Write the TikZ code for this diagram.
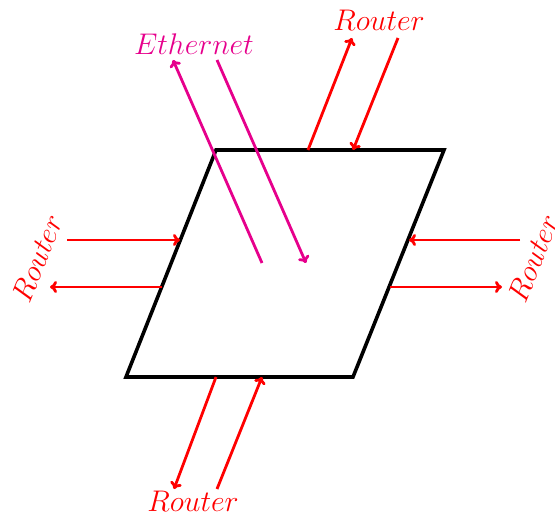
\documentclass[tikz,border=0pt]{standalone}
\usetikzlibrary{arrows.meta}
\definecolor{eth}{RGB}{230,0,140}
\newcommand{\biglbl}[1]{\scalebox{1.2}{\Huge$#1$}}
\begin{document}
\begin{tikzpicture}[x=1pt,y=-1pt,
  rline/.style={red,line width=2.8pt,-{To[length=7pt,width=12pt]}},
  eline/.style={eth,line width=2.8pt,-{To[length=7pt,width=12pt]}},
  lbl/.style={red,inner sep=0pt},
  elbl/.style={eth,inner sep=0pt}]
\useasboundingbox (0,0) rectangle (555,516);
% parallelogram
\coordinate (A) at (216,150);
\coordinate (B) at (444,150);
\coordinate (C) at (353,377);
\coordinate (D) at (126,377);
\draw[line width=3.6pt,line join=miter] (A) -- (B) -- (C) -- (D) -- cycle;
% top router
\coordinate (t1s) at (308,150); \coordinate (t1e) at (352,38);
\coordinate (t2s) at (398,38);  \coordinate (t2e) at (353,150);
\draw[rline] (t1s) -- (t1e);
\draw[rline] (t2s) -- (t2e);
\node[lbl] (rt) at (379,20) {\biglbl{Router}};
% ethernet
\coordinate (e1s) at (262,263); \coordinate (e1e) at (173,60);
\coordinate (e2s) at (217,60);  \coordinate (e2e) at (306,263);
\draw[eline] (e1s) -- (e1e);
\draw[eline] (e2s) -- (e2e);
\node[elbl] (eth) at (194,44) {\biglbl{Ethernet}};
% left router
\coordinate (l1s) at (67,240); \coordinate (l1e) at (180,240);
\coordinate (l2s) at (162,287); \coordinate (l2e) at (50,287);
\draw[rline] (l1s) -- (l1e);
\draw[rline] (l2s) -- (l2e);
\node[lbl,rotate=68] (rl) at (37,258) {\biglbl{Router}};
% right router
\coordinate (r1s) at (520,240); \coordinate (r1e) at (409,240);
\coordinate (r2s) at (390,287); \coordinate (r2e) at (502,287);
\draw[rline] (r1s) -- (r1e);
\draw[rline] (r2s) -- (r2e);
\node[lbl,rotate=68] (rr) at (533,258) {\biglbl{Router}};
% bottom router
\coordinate (b1s) at (216,377); \coordinate (b1e) at (174,489);
\coordinate (b2s) at (217,489); \coordinate (b2e) at (262,377);
\draw[rline] (b1s) -- (b1e);
\draw[rline] (b2s) -- (b2e);
\node[lbl] (rb) at (193,501) {\biglbl{Router}};
\end{tikzpicture}
\end{document}
